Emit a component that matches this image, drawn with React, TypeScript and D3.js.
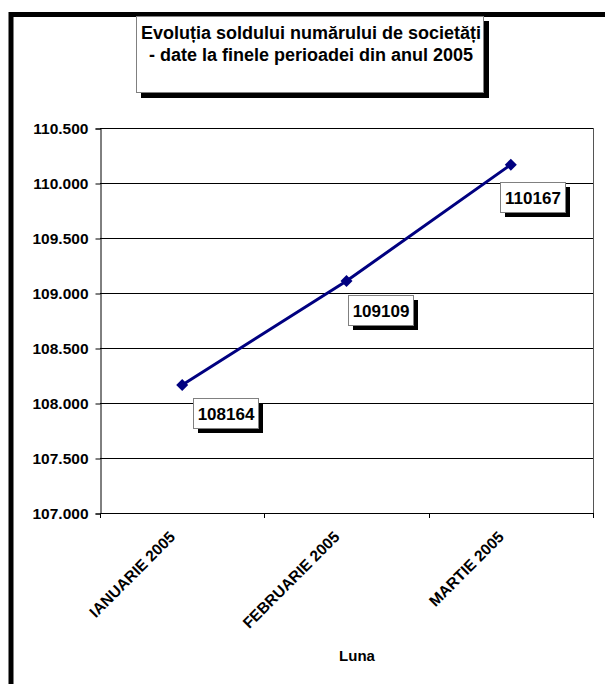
import { useEffect, useRef } from "react";
import * as d3 from "d3";

const months = ["IANUARIE 2005", "FEBRUARIE 2005", "MARTIE 2005"];
const soldValues = [108164, 109109, 110167];
const yTicks = [107000, 107500, 108000, 108500, 109000, 109500, 110000, 110500];
const titleLines = ["Evoluția soldului numărului de societăți", "- date la finele perioadei din anul 2005"];

// where Excel dropped each data label relative to its point
const labelOffsets = [
  { dx: 11, dy: 13 },
  { dx: 1, dy: 14 },
  { dx: -11, dy: 17 },
];

const App = () => {
  const svgRef = useRef<SVGSVGElement>(null);

  useEffect(() => {
    document.body.style.margin = "0";
    const svg = d3.select(svgRef.current);
    svg.selectAll("*").remove();

    const font = "'Liberation Sans', Arial, sans-serif";
    const plot = { left: 100, right: 593, top: 128, bottom: 513 };

    const x = d3.scaleBand().domain(months).range([plot.left, plot.right]);
    const y = d3.scaleLinear().domain([107000, 110500]).range([plot.bottom, plot.top]);
    const fmt = d3.formatLocale({ decimal: ",", thousands: ".", grouping: [3], currency: ["", ""] }).format(",d");

    svg.append("rect").attr("width", 605).attr("height", 684).attr("fill", "#fff");

    // outer frame (only the top/left edges are inside the picture)
    svg.append("rect")
      .attr("x", 11).attr("y", 14.5)
      .attr("width", 700).attr("height", 800)
      .attr("fill", "none").attr("stroke", "#000").attr("stroke-width", 5);

    // title box with shadow
    svg.append("rect").attr("x", 141).attr("y", 21).attr("width", 348).attr("height", 77).attr("fill", "#000");
    svg.append("rect").attr("x", 136.5).attr("y", 16.5).attr("width", 347).attr("height", 76)
      .attr("fill", "#fff").attr("stroke", "#808080").attr("stroke-width", 1);
    svg.append("g").selectAll("text").data(titleLines).enter().append("text")
      .attr("x", 311).attr("y", (d, i) => 39 + i * 22)
      .attr("text-anchor", "middle")
      .attr("font-family", font).attr("font-weight", "bold").attr("font-size", 18)
      .text((d) => d);

    // gridlines
    svg.append("g").selectAll("line").data(yTicks).enter().append("line")
      .attr("x1", plot.left).attr("x2", plot.right)
      .attr("y1", (d) => Math.round(y(d)) + 0.5).attr("y2", (d) => Math.round(y(d)) + 0.5)
      .attr("stroke", "#000").attr("stroke-width", 1);

    // plot area right border
    svg.append("line")
      .attr("x1", plot.right + 0.5).attr("x2", plot.right + 0.5)
      .attr("y1", plot.top).attr("y2", plot.bottom)
      .attr("stroke", "#555");

    // y axis
    const yAxis = svg.append("g")
      .attr("transform", `translate(${plot.left + 0.5},0.5)`)
      .call(d3.axisLeft(y).tickValues(yTicks).tickFormat((d) => fmt(d as number)).tickSize(5).tickPadding(7));
    yAxis.select(".domain").attr("stroke", "#000");
    yAxis.selectAll(".tick line").attr("stroke", "#000");
    yAxis.selectAll(".tick text")
      .attr("font-family", font).attr("font-weight", "bold").attr("font-size", 15.5).attr("fill", "#000");

    // x axis: ticks on category boundaries
    svg.append("line")
      .attr("x1", plot.left).attr("x2", plot.right)
      .attr("y1", plot.bottom + 0.5).attr("y2", plot.bottom + 0.5)
      .attr("stroke", "#000");
    const boundaries = months.map((m) => x(m) as number).concat([plot.right]);
    svg.append("g").selectAll("line").data(boundaries).enter().append("line")
      .attr("x1", (d) => Math.round(d) + 0.5).attr("x2", (d) => Math.round(d) + 0.5)
      .attr("y1", plot.bottom).attr("y2", plot.bottom + 5)
      .attr("stroke", "#000");
    svg.append("g").selectAll("text").data(months).enter().append("text")
      .attr("transform", (d) => `translate(${(x(d) as number) + x.bandwidth() / 2 - 6},${plot.bottom + 25}) rotate(-45)`)
      .attr("text-anchor", "end")
      .attr("font-family", font).attr("font-weight", "bold").attr("font-size", 15.5)
      .text((d) => d);

    svg.append("text")
      .attr("x", 357).attr("y", 661)
      .attr("text-anchor", "middle")
      .attr("font-family", font).attr("font-weight", "bold").attr("font-size", 15)
      .text("Luna");

    // series
    const pts = months.map((m, i) => ({
      cx: (x(m) as number) + x.bandwidth() / 2,
      cy: y(soldValues[i]),
      v: soldValues[i],
      off: labelOffsets[i],
    }));

    const line = d3.line<{ cx: number; cy: number }>().x((d) => d.cx).y((d) => d.cy);
    svg.append("path").datum(pts).attr("d", line)
      .attr("fill", "none").attr("stroke", "#000080").attr("stroke-width", 3);

    svg.append("g").selectAll("path").data(pts).enter().append("path")
      .attr("d", d3.symbol(d3.symbolSquare, 72))
      .attr("transform", (d) => `translate(${d.cx},${d.cy}) rotate(45)`)
      .attr("fill", "#000080");

    // data labels with shadow
    const bw = 65, bh = 30;
    const labels = svg.append("g").selectAll("g").data(pts).enter().append("g")
      .attr("transform", (d) => `translate(${Math.round(d.cx + d.off.dx)},${Math.round(d.cy + d.off.dy)})`);
    labels.append("rect").attr("x", 5).attr("y", 5).attr("width", bw).attr("height", bh).attr("fill", "#000");
    labels.append("rect").attr("x", 0.5).attr("y", 0.5).attr("width", bw).attr("height", bh)
      .attr("fill", "#fff").attr("stroke", "#808080");
    labels.append("text")
      .attr("x", bw / 2 + 0.5).attr("y", bh / 2 + 6.5)
      .attr("text-anchor", "middle")
      .attr("font-family", font).attr("font-weight", "bold").attr("font-size", 17)
      .text((d) => d.v);
  }, []);

  return <svg ref={svgRef} width={605} height={684} style={{ display: "block" }} />;
};

export default App;
